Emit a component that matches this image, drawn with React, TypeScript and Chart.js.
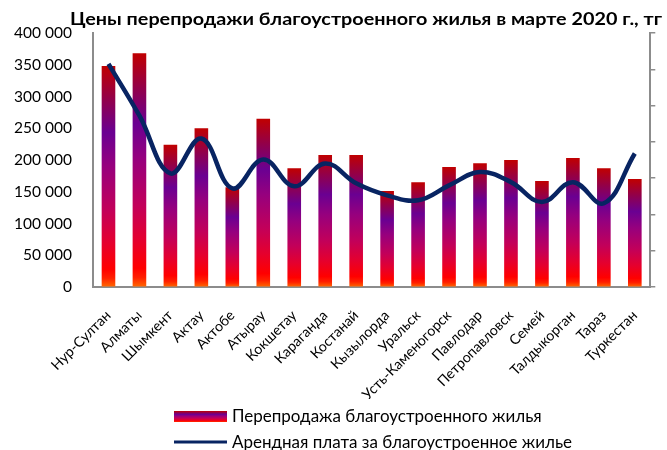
import React, { useEffect, useRef } from 'react';
import { Chart, registerables } from 'chart.js';

Chart.register(...registerables);

const titleText = 'Цены перепродажи благоустроенного жилья в марте 2020 г., тг';
const categories = ['Нур-Султан', 'Алматы', 'Шымкент', 'Актау', 'Актобе', 'Атырау', 'Кокшетау', 'Караганда', 'Костанай', 'Кызылорда', 'Уральск', 'Усть-Каменогорск', 'Павлодар', 'Петропавловск', 'Семей', 'Талдыкорган', 'Тараз', 'Туркестан'];
const resaleLabel = 'Перепродажа благоустроенного жилья';
const rentLabel = 'Арендная плата за благоустроенное жилье';
const resaleValues = [348000, 368000, 224000, 250000, 157000, 265000, 187000, 208000, 208000, 151000, 165000, 189000, 195000, 200000, 167000, 203000, 187000, 170000];
const rentValues = [3075, 2360, 1565, 2046, 1359, 1757, 1387, 1702, 1428, 1263, 1195, 1400, 1583, 1445, 1171, 1445, 1153, 1840];
const leftTicks = [0, 50000, 100000, 150000, 200000, 250000, 300000, 350000, 400000];
const rightMax = 3500;
const rightStep = 500;

const FONT = 'Lato, "Open Sans", sans-serif';
const NAVY = '#082462';
const AXIS = '#8c8c8c';

const gradientStops: [number, string][] = [
  [0, '#ff6a00'],
  [0.04, '#ff2000'],
  [0.08, '#ff0000'],
  [0.2, '#e5002e'],
  [0.35, '#c2005a'],
  [0.55, '#96007e'],
  [0.7, '#6a0092'],
  [0.85, '#92004a'],
  [1, '#c00000'],
];

function makeGradient(ctx: CanvasRenderingContext2D, bottom: number, top: number) {
  const g = ctx.createLinearGradient(0, bottom, 0, top);
  gradientStops.forEach(([o, c]) => g.addColorStop(o, c));
  return g;
}

function fmt(v: number) {
  return String(v).replace(/\B(?=(\d{3})+(?!\d))/g, ' ');
}

const decorPlugin = {
  id: 'decor',
  afterDraw(chart: any) {
    const ctx: CanvasRenderingContext2D = chart.ctx;
    ctx.save();
    ctx.fillStyle = '#000';
    ctx.font = `bold 16.5px ${FONT}`;
    ctx.textAlign = 'left';
    ctx.textBaseline = 'alphabetic';
    const w = ctx.measureText(titleText).width;
    const sx = w > 0 ? 592 / w : 1;
    ctx.save();
    ctx.translate(70, 25);
    ctx.scale(sx, 1);
    ctx.fillText(titleText, 0, 0);
    ctx.restore();
    const bx = 174;
    ctx.fillStyle = makeGradient(ctx, 422, 411);
    ctx.fillRect(bx, 411, 53, 11);
    ctx.font = `17px ${FONT}`;
    ctx.fillStyle = '#000';
    ctx.textBaseline = 'middle';
    ctx.fillText(resaleLabel, 232, 417);
    ctx.strokeStyle = NAVY;
    ctx.lineWidth = 3;
    ctx.beginPath();
    ctx.moveTo(bx, 442);
    ctx.lineTo(bx + 53, 442);
    ctx.stroke();
    ctx.fillText(rentLabel, 232, 443);
    ctx.restore();
  },
};

export default function App() {
  const ref = useRef<HTMLCanvasElement>(null);
  useEffect(() => {
    document.body.style.margin = '0';
    const canvas = ref.current!;
    const chart = new Chart(canvas, {
      type: 'bar',
      data: {
        labels: categories,
        datasets: [
          {
            type: 'line',
            label: rentLabel,
            data: rentValues,
            yAxisID: 'y1',
            borderColor: NAVY,
            borderWidth: 4.5,
            pointRadius: 0,
            tension: 0.4,
            fill: false,
            order: 0,
          } as any,
          {
            type: 'bar',
            label: resaleLabel,
            data: resaleValues,
            yAxisID: 'y',
            barPercentage: 0.44,
            categoryPercentage: 1,
            order: 1,
            backgroundColor: (c: any) => {
              const ch = c.chart;
              const s = ch.scales && ch.scales.y;
              if (c.type !== 'data' || !s) return '#c2005a';
              const v = c.raw as number;
              const b = s.getPixelForValue(0);
              const t = s.getPixelForValue(v);
              if (!isFinite(b) || !isFinite(t) || b === t) return '#c2005a';
              return makeGradient(ch.ctx, b, t);
            },
          } as any,
        ],
      },
      options: {
        responsive: false,
        animation: false,
        events: [],
        layout: { padding: { top: 33, left: 0, right: 0, bottom: 0 } },
        plugins: { legend: { display: false }, title: { display: false }, tooltip: { enabled: false } },
        scales: {
          x: {
            grid: { drawOnChartArea: false, drawTicks: false },
            border: { color: AXIS, width: 2 },
            ticks: {
              minRotation: 45,
              maxRotation: 45,
              autoSkip: false,
              padding: 20,
              color: '#000',
              font: { family: FONT, size: 14.2 },
            },
            afterFit: (s: any) => { s.height = 163; },
          },
          y: {
            position: 'left',
            min: 0,
            max: 400000,
            afterBuildTicks: (s: any) => { s.ticks = leftTicks.map((v) => ({ value: v })); },
            grid: { drawOnChartArea: false, drawTicks: false },
            border: { color: AXIS, width: 2 },
            ticks: {
              padding: 21,
              color: '#000',
              font: { family: FONT, size: 15.5 },
              callback: (v: any) => fmt(Number(v)),
            },
            afterFit: (s: any) => { s.width = 93; },
          },
          y1: {
            position: 'right',
            min: 0,
            max: rightMax,
            ticks: { stepSize: rightStep, display: false },
            grid: { drawOnChartArea: false, drawTicks: true, tickLength: 5, color: AXIS, lineWidth: 1.5 },
            border: { color: AXIS, width: 2 },
            afterFit: (s: any) => { s.width = 5; },
          },
        },
      },
      plugins: [decorPlugin],
    });
    return () => chart.destroy();
  }, []);
  return <canvas ref={ref} width={667} height={450} style={{ display: 'block' }} />;
}
